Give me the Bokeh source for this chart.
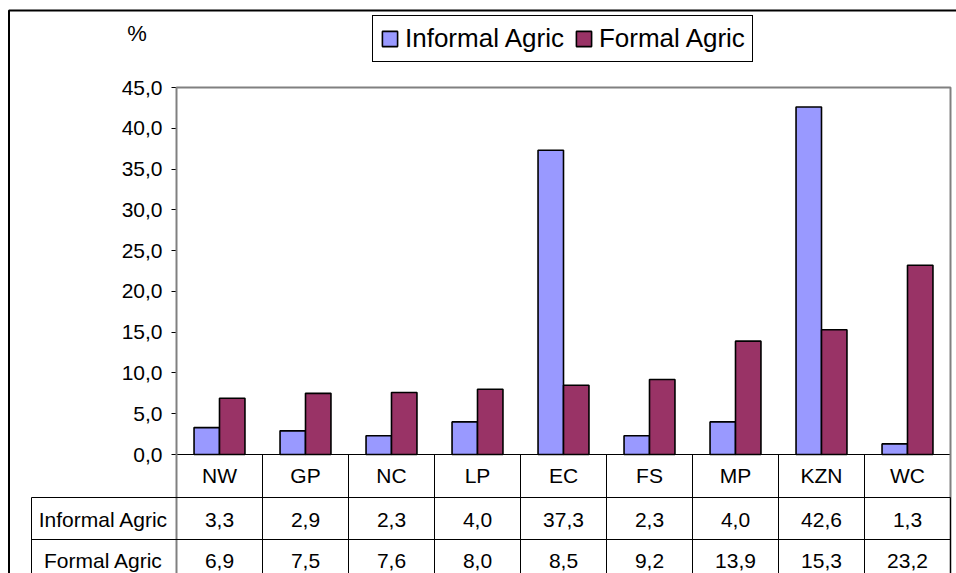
import numpy as np
from bokeh.plotting import figure
from bokeh.models import (ColumnDataSource, LinearAxis, FixedTicker, CustomJSTickFormatter,
                          Range1d, BoxAnnotation, Label, Legend, LegendItem)
from bokeh.core.properties import value
from bokeh.embed import file_html
from bokeh.resources import INLINE

# ---------------- data ----------------
categories = ["NW", "GP", "NC", "LP", "EC", "FS", "MP", "KZN", "WC"]
informal_agric = [3.3, 2.9, 2.3, 4.0, 37.3, 2.3, 4.0, 42.6, 1.3]
formal_agric = [6.9, 7.5, 7.6, 8.0, 8.5, 9.2, 13.9, 15.3, 23.2]
series_names = ["Informal Agric", "Formal Agric"]
y_ticks = [0, 5, 10, 15, 20, 25, 30, 35, 40, 45]
y_unit = "%"

# ---------------- layout helpers (canvas pixels -> data) ----------------
FONT = "Liberation Sans"
W, H = 956, 573
PLOT_L, PLOT_R, PLOT_T = 176, 950, 87   # canvas px of plot area
ZERO_Y = 454                              # canvas px of value 0
n = len(categories)
y_max = y_ticks[-1]
px_x = (PLOT_R - PLOT_L) / n
px_y = (ZERO_Y - PLOT_T) / y_max


def xd(px):
    return (px - PLOT_L) / px_x


def yd(py):
    return (ZERO_Y - py) / px_y


def fmt(v):
    return f"{v:.1f}".replace(".", ",")


idx = np.arange(n)
src = ColumnDataSource(dict(
    xc=idx + 0.5,
    xi=idx + 0.5 - 0.148,
    xf=idx + 0.5 + 0.148,
    informal=informal_agric,
    formal=formal_agric,
    cat=categories,
    inf_lbl=[fmt(v) for v in informal_agric],
    for_lbl=[fmt(v) for v in formal_agric],
))

y_bottom = yd(H)
p = figure(width=W, height=H, x_range=Range1d(xd(0), xd(W)), y_range=Range1d(y_bottom, yd(0)),
           x_axis_type=None, y_axis_type=None, toolbar_location=None,
           output_backend="svg", min_border=0)
p.outline_line_color = None
p.background_fill_color = "white"
p.border_fill_color = "white"

# outer chart border
p.add_layout(BoxAnnotation(left=xd(8.5), right=xd(3000), top=yd(10), bottom=yd(3000),
                           fill_color=None, fill_alpha=0, line_color="black",
                           line_width=2, line_alpha=1))

# plot area border (grey) continuing down the table's right edge
p.add_layout(BoxAnnotation(left=0, right=n, top=y_max, bottom=yd(3000),
                           fill_color=None, fill_alpha=0, line_color="#808080",
                           line_width=2, line_alpha=1))

# bars
r1 = p.vbar(x="xi", top="informal", bottom=0, width=0.296, source=src,
            fill_color="#9999FF", line_color="black", line_width=1.6)
r2 = p.vbar(x="xf", top="formal", bottom=0, width=0.296, source=src,
            fill_color="#993366", line_color="black", line_width=1.6)

# baseline / table top
p.segment(x0=[0], y0=[0], x1=[n], y1=[0], line_color="black", line_width=1)

# category separators in table
p.segment(x0=idx[1:], y0=0, x1=idx[1:], y1=y_bottom, line_color="black", line_width=1)

# table row lines + left column border
for top_px in (497, 539):
    p.add_layout(BoxAnnotation(left=xd(31), right=n, top=yd(top_px), bottom=yd(3000),
                               fill_color=None, fill_alpha=0, line_color="black",
                               line_width=1, line_alpha=1))

# table texts
text_kw = dict(text_font=value(FONT), text_font_size="21px", text_align="center",
               text_baseline="middle", text_color="black", source=src)
p.text(x="xc", y=yd(475), text="cat", **text_kw)
p.text(x="xc", y=yd(519), text="inf_lbl", **text_kw)
p.text(x="xc", y=yd(560), text="for_lbl", **text_kw)

for name, py in zip(series_names, (519, 560)):
    p.add_layout(Label(x=xd(103), y=yd(py), text=name, text_font=FONT,
                       text_font_size="21px", text_align="center",
                       text_baseline="middle", text_color="black"))

p.add_layout(Label(x=xd(136.5), y=yd(33), text=y_unit, text_font=FONT,
                   text_font_size="22px", text_align="center",
                   text_baseline="middle", text_color="black"))

# y axis (fixed at the plot area's left edge)
yaxis = LinearAxis(ticker=FixedTicker(ticks=y_ticks), fixed_location=0,
                   bounds=(y_bottom - 5, y_max),
                   formatter=CustomJSTickFormatter(code="return tick.toFixed(1).replace('.', ',')"))
yaxis.axis_line_color = "black"
yaxis.axis_line_width = 1
yaxis.major_tick_line_color = "black"
yaxis.major_tick_out = 5
yaxis.major_tick_in = 0
yaxis.minor_tick_out = 0
yaxis.minor_tick_in = 0
yaxis.major_label_standoff = 9
yaxis.major_label_text_font = FONT
yaxis.major_label_text_font_size = "21px"
yaxis.major_label_text_color = "black"
p.add_layout(yaxis, "left")

# legend
legend = Legend(items=[LegendItem(label=series_names[0], renderers=[r1]),
                       LegendItem(label=series_names[1], renderers=[r2])],
                orientation="horizontal", location=(372, H - 62),
                padding=7, spacing=10, label_standoff=6, glyph_width=19, glyph_height=19,
                label_height=19, label_width=10,
                label_text_font=FONT, label_text_font_size="26px", label_text_color="black",
                border_line_color="black", border_line_width=1, border_line_alpha=1,
                background_fill_color="white", background_fill_alpha=1, margin=0)
p.add_layout(legend, "center")

open("out.html", "w").write(file_html(p, INLINE))
